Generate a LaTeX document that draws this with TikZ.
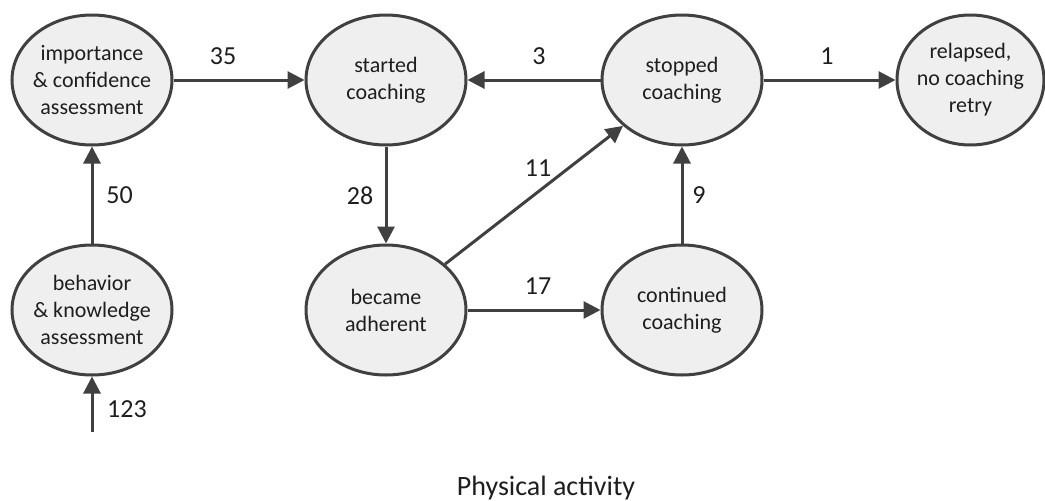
\documentclass[tikz,border=0pt]{standalone}
\usepackage{fontspec}
\setmainfont{Carlito}
\usetikzlibrary{arrows.meta,shapes.geometric}
\definecolor{edgegray}{HTML}{404040}
\definecolor{fillgray}{HTML}{EFEFEF}
\definecolor{textdark}{HTML}{1E1E1E}
\begin{document}
\begin{tikzpicture}[x=1pt,y=-1pt,
  state/.style={ellipse, draw=edgegray, fill=fillgray, line width=3pt,
    minimum width=160pt, minimum height=130pt, inner xsep=-10pt, inner ysep=0pt,
    align=center, text=textdark, font=\fontsize{22}{27}\selectfont},
  flow/.style={draw=edgegray, line width=3pt, -{Triangle[length=17pt,width=17pt]}},
  num/.style={text=textdark, font=\fontsize{26}{30}\selectfont, inner sep=0pt}]
\useasboundingbox (0,0) rectangle (1045,501);
\node[state] (imp) at (92,80) {importance\\\& confidence\\assessment};
\node[state] (beh) at (92,310) {behavior\\\& knowledge\\assessment};
\node[state] (sta) at (386,80) {started\\coaching};
\node[state] (adh) at (386,310) {became\\adherent};
\node[state] (sto) at (682,80) {stopped\\coaching};
\node[state] (con) at (682,310) {continued\\coaching};
\node[state, minimum width=147pt] (rel) at (970.5,80) {relapsed,\\no coaching\\retry};
\coordinate (in) at (92,432);
\draw[flow] (in) -- (beh);
\draw[flow] (beh) -- (imp);
\draw[flow] (imp) -- (sta);
\draw[flow] (sta) -- (adh);
\draw[flow] (sto) -- (sta);
\draw[flow] (sto) -- (rel);
\draw[flow] (adh) -- (sto);
\draw[flow] (adh) -- (con);
\draw[flow] (con) -- (sto);
\node[num] (n123) at (127,409) {123};
\node[num] (n50) at (119.5,195) {50};
\node[num] (n35) at (223,56) {35};
\node[num] (n28) at (360,196) {28};
\node[num] (n3) at (539,56) {3};
\node[num] (n1) at (827,56) {1};
\node[num] (n11) at (538,168) {11};
\node[num] (n17) at (538,286) {17};
\node[num] (n9) at (699,195) {9};
\node[text=textdark, font=\fontsize{28}{32}\selectfont, inner sep=0pt] (cap) at (546,488) {Physical activity};
\end{tikzpicture}
\end{document}
